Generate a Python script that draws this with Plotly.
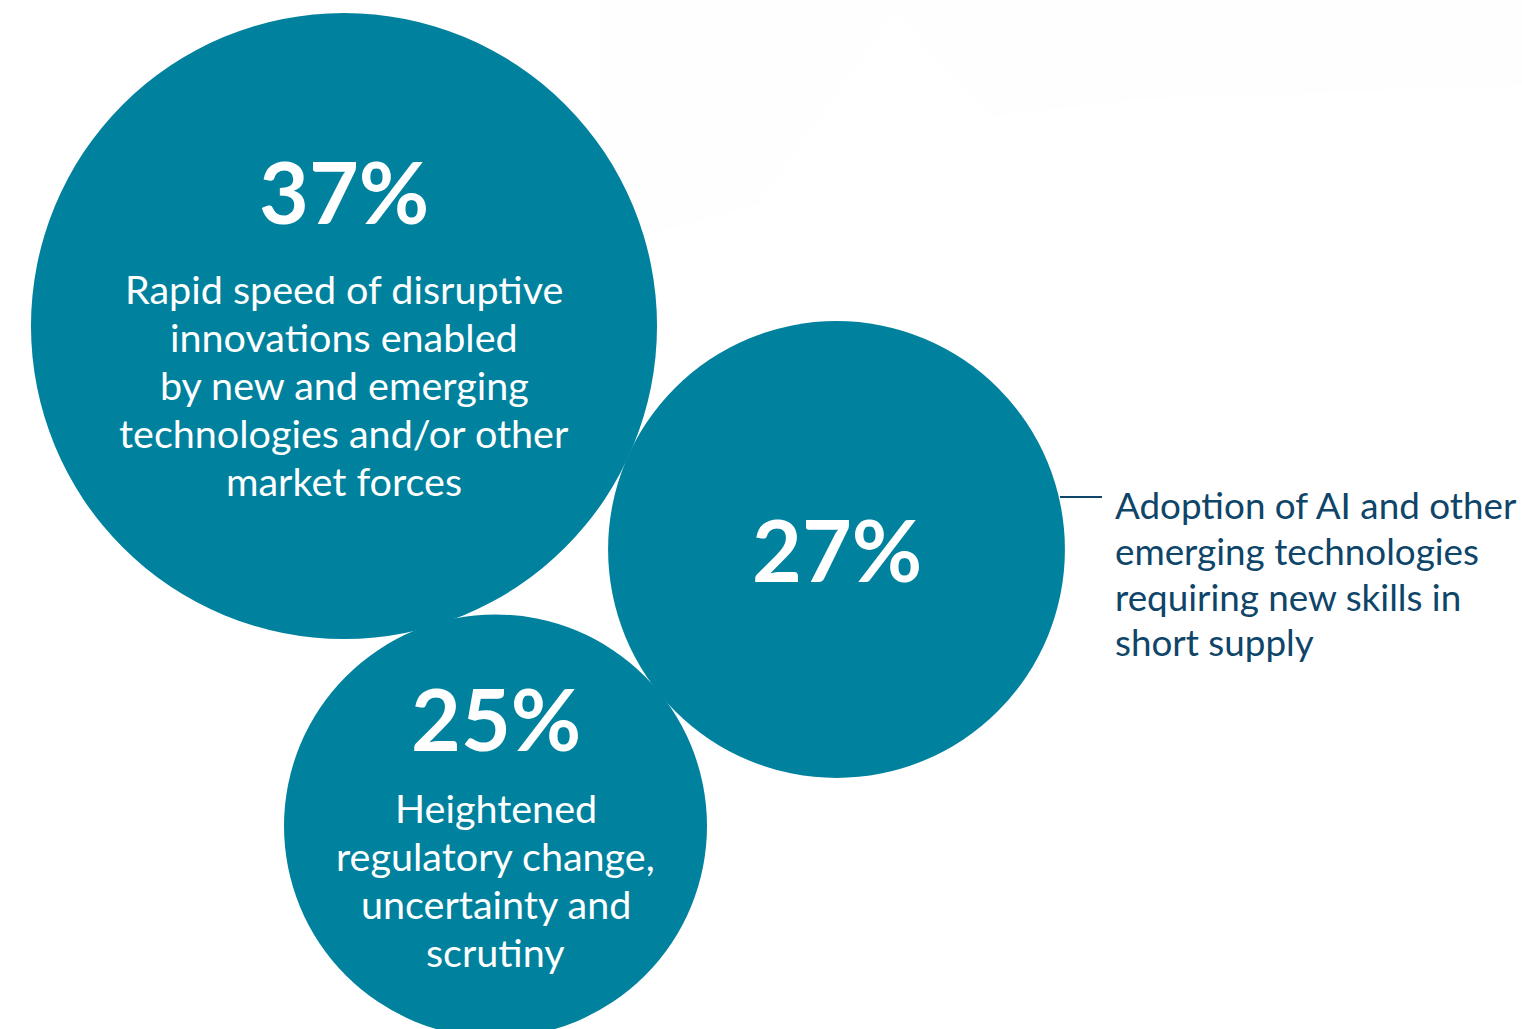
import plotly.graph_objects as go

# ---- data ----
values = [37, 27, 25]
pct_labels = ["37%", "27%", "25%"]
descriptions = [
    ["Rapid speed of disruptive", "innovations enabled", "by new and emerging",
     "technologies and/or other", "market forces"],
    [],
    ["Heightened", "regulatory change,", "uncertainty and", "scrutiny"],
]
side_label = ["Adoption of AI and other", "emerging technologies",
              "requiring new skills in", "short supply"]

# ---- layout (positions in pixel-like data coords) ----
W, H = 1522, 1029
centers_x = [344, 836.5, 495.5]
centers_y = [326, 549.5, 826]
radius_per_point = 8.46
pct_y = [190.5, 548.5, 717.5]
desc_y0 = [288, None, 807]
desc_step = [48, None, 48.3]
side_x, side_y0, side_step = 1113, 505, 45.8

TEAL = "#00829E"
NAVY = "#0E4569"

fig = go.Figure()
fig.add_trace(go.Scatter(x=[0, W], y=[0, H], mode="markers",
                         marker=dict(opacity=0), hoverinfo="skip", showlegend=False))

shapes = []
shapes.append(dict(type="path", xref="x", yref="y", layer="below",
                   path="M 600,0 L 600,245 L 633,238 L 757,205 L 895,12 L 990,117 L 1130,100 L 1522,85 L 1522,0 Z",
                   fillcolor="#fefefe", line=dict(width=0)))
for v, cx, cy in zip(values, centers_x, centers_y):
    r = v * radius_per_point
    shapes.append(dict(type="circle", xref="x", yref="y", layer="above",
                       x0=cx - r, x1=cx + r, y0=cy - r, y1=cy + r,
                       fillcolor=TEAL, line=dict(width=0)))
shapes.append(dict(type="line", xref="x", yref="y", x0=1060, x1=1102, y0=497, y1=497,
                   line=dict(color=NAVY, width=2)))

annotations = []
for i, (lab, cx) in enumerate(zip(pct_labels, centers_x)):
    annotations.append(dict(x=cx, y=pct_y[i], xref="x", yref="y", text=f"<b>{lab}</b>",
                            showarrow=False, xanchor="center", yanchor="middle",
                            font=dict(family="Lato", size=86, color="white")))
    for j, line in enumerate(descriptions[i]):
        annotations.append(dict(x=cx, y=desc_y0[i] + j * desc_step[i], xref="x", yref="y",
                                text=line, showarrow=False, xanchor="center", yanchor="middle",
                                font=dict(family="Lato", size=39.5, color="white")))
for j, line in enumerate(side_label):
    annotations.append(dict(x=side_x, y=side_y0 + j * side_step, xref="x", yref="y", text=line,
                            showarrow=False, xanchor="left", yanchor="middle", align="left",
                            font=dict(family="Lato", size=36.8, color=NAVY)))

fig.update_layout(
    width=W, height=H,
    margin=dict(l=0, r=0, t=0, b=0),
    paper_bgcolor="white", plot_bgcolor="white",
    xaxis=dict(range=[0, W], visible=False, fixedrange=True),
    yaxis=dict(range=[H, 0], visible=False, fixedrange=True),
    shapes=shapes, annotations=annotations, showlegend=False,
)
fig.write_html("out.html", config={"displayModeBar": False},
               post_script="document.body.style.margin='0';document.body.style.overflow='hidden';")
